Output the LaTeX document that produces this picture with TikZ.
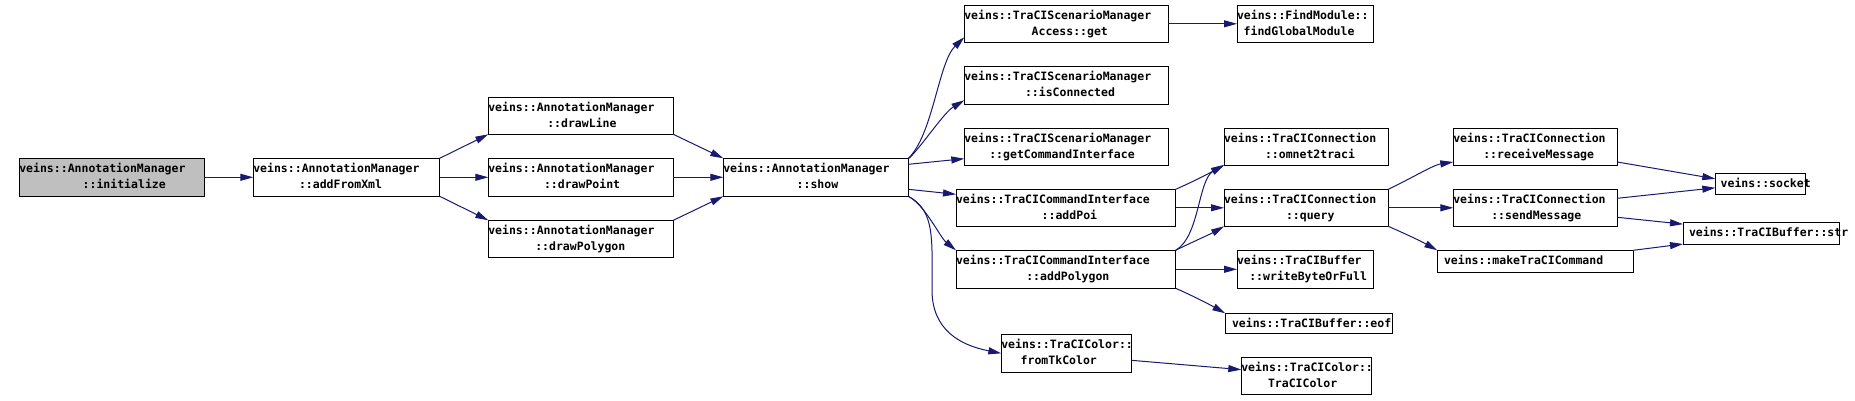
\documentclass[tikz,border=0pt]{standalone}
\usepackage{fontspec}
\newfontfamily\dvm{DejaVu Sans Mono}
\usetikzlibrary{arrows.meta}
\definecolor{edgeblue}{RGB}{25,25,112}
\definecolor{boxgray}{RGB}{191,191,191}
\tikzset{
  fnbox/.style={draw=black, line width=1pt, inner sep=0pt, outer sep=0pt, fill=white},
  fntext/.style={inner sep=0pt, outer sep=0pt, anchor=base west, font=\dvm\bfseries\fontsize{11.5}{13}\selectfont, text=black},
  call/.style={draw=edgeblue, line width=1pt, -{Triangle[length=13pt,width=7pt]}}
}
\newcommand{\mkbox}[6]{%
  \pgfmathsetmacro{\myw}{#5-#3}\pgfmathsetmacro{\myh}{#6-#4}%
  \node[#1, minimum width=\myw pt, minimum height=\myh pt] (#2) at ({(#3+#5)/2},{(#4+#6)/2}) {};}
\newcommand{\twol}[6]{%
  \node[fntext] (#1-l1) at ({#2},{#3+14.5}) {#4};
  \node[fntext] (#1-l2) at ({#5},{#3+30.2}) {#6};}
\newcommand{\onel}[4]{\node[fntext] (#1-l1) at ({#2},{#3+14}) {#4};}
\begin{document}
\begin{tikzpicture}[x=1pt,y=-1pt]
\fill[white] (0,0) rectangle (1855,401);
\useasboundingbox (0,0) rectangle (1855,401);
% boxes
\mkbox{fnbox,fill=boxgray}{init}{19.3}{158.3}{204.3}{196.3}
\mkbox{fnbox}{addx}{253.3}{158.3}{439.7}{196.3}
\mkbox{fnbox}{dline}{488.3}{97.3}{673.3}{134.3}
\mkbox{fnbox}{dpoint}{488.3}{158.3}{673.3}{196.3}
\mkbox{fnbox}{dpoly}{488.3}{220.3}{673.3}{257}
\mkbox{fnbox}{show}{723.3}{158.3}{908.3}{196.3}
\mkbox{fnbox}{get}{964.3}{5.3}{1168.3}{42.3}
\mkbox{fnbox}{find}{1237}{5.3}{1373.3}{42.3}
\mkbox{fnbox}{isc}{964.3}{66.3}{1168.3}{104.3}
\mkbox{fnbox}{gci}{964.3}{128.3}{1168.3}{165}
\mkbox{fnbox}{addpoi}{956}{189.3}{1175.7}{226.3}
\mkbox{fnbox}{addpoly}{956}{250.3}{1175.7}{288.3}
\mkbox{fnbox}{omnet}{1224}{128.3}{1388.3}{165}
\mkbox{fnbox}{query}{1224}{189.3}{1388.3}{226.3}
\mkbox{fnbox}{wbof}{1237}{250.3}{1373.3}{288.3}
\mkbox{fnbox}{eof}{1225.3}{313.3}{1392.3}{333.3}
\mkbox{fnbox}{tkc}{1001.3}{334.3}{1131.3}{372.3}
\mkbox{fnbox}{tcc}{1241.3}{357.3}{1371.3}{394}
\mkbox{fnbox}{recv}{1453.3}{128.3}{1617.3}{165}
\mkbox{fnbox}{send}{1453.3}{189.3}{1617.3}{226.3}
\mkbox{fnbox}{make}{1437.3}{250.3}{1633.3}{272.3}
\mkbox{fnbox}{socket}{1715.3}{173.3}{1805.3}{194.3}
\mkbox{fnbox}{str}{1683}{222.3}{1839.3}{244}
% texts
\twol{init}{19.3}{158.3}{veins::AnnotationManager}{82.7}{::initialize}
\twol{addx}{253.3}{158.3}{veins::AnnotationManager}{299}{::addFromXml}
\twol{dline}{488.3}{97.3}{veins::AnnotationManager}{547.3}{::drawLine}
\twol{dpoint}{488.3}{158.3}{veins::AnnotationManager}{544}{::drawPoint}
\twol{dpoly}{488.3}{220.3}{veins::AnnotationManager}{535.3}{::drawPolygon}
\twol{show}{723.3}{158.3}{veins::AnnotationManager}{796.7}{::show}
\twol{get}{964.3}{5.3}{veins::TraCIScenarioManager}{1031.7}{Access::get}
\twol{find}{1237}{5.3}{veins::FindModule::}{1243.7}{findGlobalModule}
\twol{isc}{964.3}{66.3}{veins::TraCIScenarioManager}{1025}{::isConnected}
\twol{gci}{964.3}{128.3}{veins::TraCIScenarioManager}{989.3}{::getCommandInterface}
\twol{addpoi}{956}{189.3}{veins::TraCICommandInterface}{1041.7}{::addPoi}
\twol{addpoly}{956}{250.3}{veins::TraCICommandInterface}{1026.3}{::addPolygon}
\twol{omnet}{1224}{128.3}{veins::TraCIConnection}{1265}{::omnet2traci}
\twol{query}{1224}{189.3}{veins::TraCIConnection}{1286}{::query}
\twol{wbof}{1237}{250.3}{veins::TraCIBuffer}{1249.3}{::writeByteOrFull}
\onel{eof}{1232}{313.3}{veins::TraCIBuffer::eof}
\twol{tkc}{1001.3}{334.3}{veins::TraCIColor::}{1020.7}{fromTkColor}
\twol{tcc}{1241.3}{357.3}{veins::TraCIColor::}{1268}{TraCIColor}
\twol{recv}{1453.3}{128.3}{veins::TraCIConnection}{1483.3}{::receiveMessage}
\twol{send}{1453.3}{189.3}{veins::TraCIConnection}{1491.3}{::sendMessage}
\onel{make}{1444}{250.3}{veins::makeTraCICommand}
\onel{socket}{1720.7}{173.3}{veins::socket}
\onel{str}{1689}{222.3}{veins::TraCIBuffer::str}
% edges
\draw[call] (init.east) -- (addx.west);
\draw[call] (addx.north east) -- (dline.south west);
\draw[call] (addx.east) -- (dpoint.west);
\draw[call] (addx.south east) -- (dpoly.north west);
\draw[call] (dline.south east) -- (show.north west);
\draw[call] (dpoint.east) -- (show.west);
\draw[call] (dpoly.north east) -- (show.south west);
\draw[call] (show.north east) .. controls +(24.7,-23.3) and +(-26,25) .. ([yshift=5pt]get.south west);
\draw[call] ([xshift=1pt]show.north east) .. controls +(16,-17) and +(-20,12) .. ([yshift=4pt]isc.south west);
\draw[call] ([yshift=-6pt]show.north east) -- ([yshift=6.3pt]gci.south west);
\draw[call] ([yshift=7pt]show.south east) -- ([yshift=-5pt]addpoi.north west);
\draw[call] (show.south east) .. controls +(17,9) and +(-16,-13) .. (addpoly.north west);
\coordinate (bend13) at (932,290);
\draw[call] (show.south east) .. controls +(27,14) and +(0,-50) .. (bend13) .. controls +(0,40) and +(-41,-8) .. (tkc.west);
\draw[call] (get.east) -- (find.west);
\draw[call] (addpoi.north east) .. controls +(18,-8) and +(-18,10) .. (omnet.south west);
\draw[call] (addpoi.east) -- (query.west);
\draw[call] (addpoly.north east) .. controls +(24,-14) and +(-26,15) .. (omnet.south west);
\draw[call] (addpoly.north east) .. controls +(16,-8) and +(-14,8) .. (query.south west);
\draw[call] (addpoly.east) -- (wbof.west);
\draw[call] (addpoly.south east) .. controls +(18,8) and +(-18,-10) .. (eof.north west);
\draw[call] ([yshift=-7pt]tkc.east) -- ([yshift=6pt]tcc.west);
\draw[call] (query.north east) .. controls +(25,-12) and +(-20,3) .. ([yshift=3pt]recv.south west);
\draw[call] (query.east) -- (send.west);
\draw[call] (query.south east) .. controls +(18,8) and +(-18,-10) .. (make.north west);
\draw[call] ([yshift=3pt]recv.south east) -- ([yshift=5pt]socket.west);
\draw[call] ([yshift=-9pt]send.north east) -- ([yshift=-4pt]socket.west);
\draw[call] ([yshift=9pt]send.south east) -- ([yshift=9pt]str.west);
\draw[call] (make.north east) -- (str.south west);
\end{tikzpicture}
\end{document}
